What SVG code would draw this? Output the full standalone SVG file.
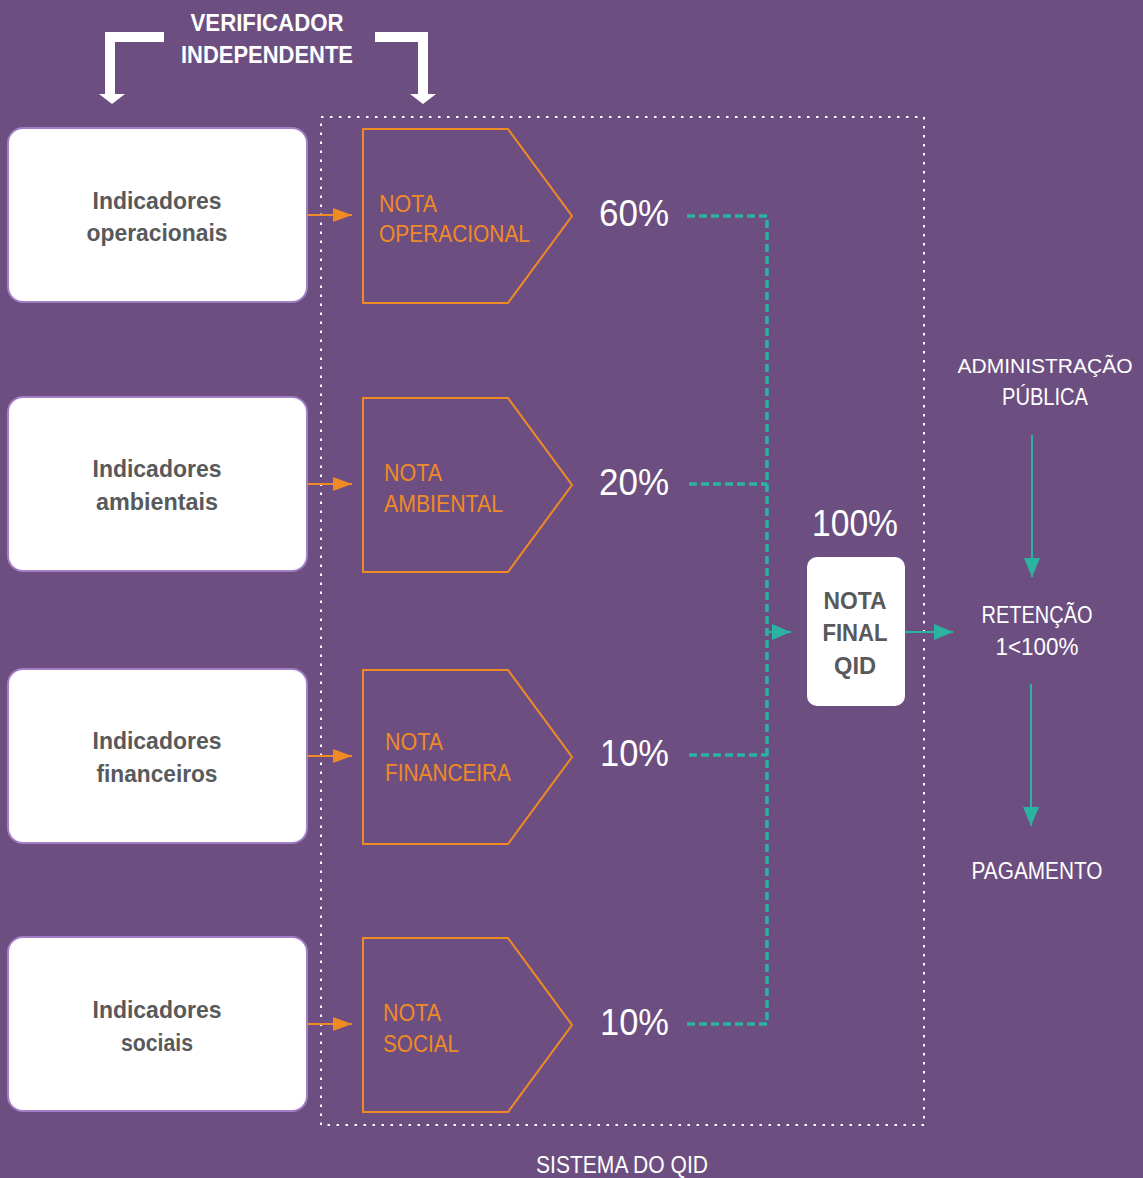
<svg xmlns="http://www.w3.org/2000/svg" width="1143" height="1178" viewBox="0 0 1143 1178">
<defs>
<style>
.bg{fill:#6c4f80}
.box{fill:#ffffff;stroke:#a27fc4;stroke-width:2}
.boxt{font-family:"Liberation Sans",Arial,sans-serif;font-weight:bold;font-size:23px;fill:#58595b;text-anchor:middle}
.pent{fill:none;stroke:#f08a26;stroke-width:2}
.pt{font-family:"Liberation Sans",Arial,sans-serif;font-size:23px;fill:#f08a26}
.pct{font-family:"Liberation Sans",Arial,sans-serif;font-size:36px;fill:#ffffff}
.wt{font-family:"Liberation Sans",Arial,sans-serif;font-size:23px;fill:#ffffff;text-anchor:middle}
.wb{font-family:"Liberation Sans",Arial,sans-serif;font-weight:bold;font-size:24px;fill:#ffffff;text-anchor:middle}
.oarr{stroke:#f08a26;stroke-width:2;fill:none}
.tdash{stroke:#2ab3a0;stroke-width:3.5;stroke-dasharray:8 4;fill:none}
.tline{stroke:#2ab3a0;stroke-width:2;fill:none}
.dot{fill:none;stroke:#ffffff;stroke-width:2;stroke-dasharray:2.5 6.5}
</style>
<marker id="oh" markerWidth="20" markerHeight="14" refX="19" refY="7" orient="auto" markerUnits="userSpaceOnUse">
<path d="M0,0 L19,7 L0,14 Z" fill="#f08a26"/>
</marker>
<marker id="th" markerWidth="20" markerHeight="16" refX="19" refY="8" orient="auto" markerUnits="userSpaceOnUse">
<path d="M0,0 L19,8 L0,16 Z" fill="#2ab3a0"/>
</marker>
</defs>
<rect class="bg" x="0" y="0" width="1143" height="1178"/>

<g id="verificador">
<text class="wb" x="267" y="31" textLength="153" lengthAdjust="spacingAndGlyphs">VERIFICADOR</text>
<text class="wb" x="267" y="63" textLength="172" lengthAdjust="spacingAndGlyphs">INDEPENDENTE</text>
<path d="M164,37 H110 V96" fill="none" stroke="#ffffff" stroke-width="10"/>
<path d="M99,94 H125 L112,104 Z" fill="#ffffff"/>
<path d="M375,37 H423 V96" fill="none" stroke="#ffffff" stroke-width="10"/>
<path d="M410,94 H436 L423,104 Z" fill="#ffffff"/>
</g>

<g id="sistema">
<rect class="dot" x="321" y="117" width="603" height="1008"/>
<text class="wt" x="622" y="1173" textLength="172" lengthAdjust="spacingAndGlyphs">SISTEMA DO QID</text>
</g>

<g id="ind-operacionais">
<rect class="box" x="8" y="128" width="299" height="174" rx="15"/>
<text class="boxt" x="157" y="209" textLength="129" lengthAdjust="spacingAndGlyphs">Indicadores</text>
<text class="boxt" x="157" y="241" textLength="141" lengthAdjust="spacingAndGlyphs">operacionais</text>
</g>
<g id="ind-ambientais">
<rect class="box" x="8" y="397" width="299" height="174" rx="15"/>
<text class="boxt" x="157" y="477" textLength="129" lengthAdjust="spacingAndGlyphs">Indicadores</text>
<text class="boxt" x="157" y="510" textLength="122" lengthAdjust="spacingAndGlyphs">ambientais</text>
</g>
<g id="ind-financeiros">
<rect class="box" x="8" y="669" width="299" height="174" rx="15"/>
<text class="boxt" x="157" y="749" textLength="129" lengthAdjust="spacingAndGlyphs">Indicadores</text>
<text class="boxt" x="157" y="782" textLength="121" lengthAdjust="spacingAndGlyphs">financeiros</text>
</g>
<g id="ind-sociais">
<rect class="box" x="8" y="937" width="299" height="174" rx="15"/>
<text class="boxt" x="157" y="1018" textLength="129" lengthAdjust="spacingAndGlyphs">Indicadores</text>
<text class="boxt" x="157" y="1051" textLength="72" lengthAdjust="spacingAndGlyphs">sociais</text>
</g>

<g id="nota-operacional">
<path class="pent" d="M363,129 H508 L572,216 L508,303 H363 Z"/>
<text class="pt" x="379" y="212" textLength="58" lengthAdjust="spacingAndGlyphs">NOTA</text>
<text class="pt" x="379" y="242" textLength="151" lengthAdjust="spacingAndGlyphs">OPERACIONAL</text>
</g>
<g id="nota-ambiental">
<path class="pent" d="M363,398 H508 L572,485 L508,572 H363 Z"/>
<text class="pt" x="384" y="481" textLength="58" lengthAdjust="spacingAndGlyphs">NOTA</text>
<text class="pt" x="384" y="512" textLength="119" lengthAdjust="spacingAndGlyphs">AMBIENTAL</text>
</g>
<g id="nota-financeira">
<path class="pent" d="M363,670 H508 L572,757 L508,844 H363 Z"/>
<text class="pt" x="385" y="750" textLength="58" lengthAdjust="spacingAndGlyphs">NOTA</text>
<text class="pt" x="385" y="781" textLength="126" lengthAdjust="spacingAndGlyphs">FINANCEIRA</text>
</g>
<g id="nota-social">
<path class="pent" d="M363,938 H508 L572,1025 L508,1112 H363 Z"/>
<text class="pt" x="383" y="1021" textLength="58" lengthAdjust="spacingAndGlyphs">NOTA</text>
<text class="pt" x="383" y="1052" textLength="76" lengthAdjust="spacingAndGlyphs">SOCIAL</text>
</g>

<g id="percentuais">
<text class="pct" x="599" y="226" textLength="70" lengthAdjust="spacingAndGlyphs">60%</text>
<text class="pct" x="599" y="495" textLength="70" lengthAdjust="spacingAndGlyphs">20%</text>
<text class="pct" x="600" y="766" textLength="69" lengthAdjust="spacingAndGlyphs">10%</text>
<text class="pct" x="600" y="1035" textLength="69" lengthAdjust="spacingAndGlyphs">10%</text>
<text class="pct" x="812" y="536" textLength="86" lengthAdjust="spacingAndGlyphs">100%</text>
</g>

<g id="nota-final">
<rect x="807" y="557" width="98" height="149" rx="10" fill="#ffffff"/>
<text class="boxt" x="855" y="609" textLength="63" lengthAdjust="spacingAndGlyphs">NOTA</text>
<text class="boxt" x="855" y="641" textLength="65" lengthAdjust="spacingAndGlyphs">FINAL</text>
<text class="boxt" x="855" y="674" textLength="42" lengthAdjust="spacingAndGlyphs">QID</text>
</g>

<g id="administracao">
<text class="wt" x="1045" y="373" style="font-size:21px">ADMINISTRAÇÃO</text>
<text class="wt" x="1045" y="405" textLength="86" lengthAdjust="spacingAndGlyphs">PÚBLICA</text>
</g>
<g id="retencao">
<text class="wt" x="1037" y="623" textLength="111" lengthAdjust="spacingAndGlyphs">RETENÇÃO</text>
<text class="wt" x="1037" y="655" textLength="83" lengthAdjust="spacingAndGlyphs">1&lt;100%</text>
</g>
<g id="pagamento">
<text class="wt" x="1037" y="879" textLength="131" lengthAdjust="spacingAndGlyphs">PAGAMENTO</text>
</g>

<g id="connectors">
<line class="oarr" x1="307" y1="215" x2="352" y2="215" marker-end="url(#oh)"/>
<line class="oarr" x1="307" y1="484" x2="352" y2="484" marker-end="url(#oh)"/>
<line class="oarr" x1="307" y1="756" x2="352" y2="756" marker-end="url(#oh)"/>
<line class="oarr" x1="307" y1="1024" x2="352" y2="1024" marker-end="url(#oh)"/>
<path class="tdash" d="M687,216 H767 V1024 H685"/>
<line class="tdash" x1="689" y1="484" x2="767" y2="484"/>
<line class="tdash" x1="689" y1="755" x2="767" y2="755"/>
<line class="tline" x1="767" y1="632" x2="791" y2="632" marker-end="url(#th)"/>
<line class="tline" x1="905" y1="632" x2="953" y2="632" marker-end="url(#th)"/>
<line class="tline" x1="1032" y1="435" x2="1032" y2="577" marker-end="url(#th)"/>
<line class="tline" x1="1031" y1="684" x2="1031" y2="826" marker-end="url(#th)"/>
</g>
</svg>
